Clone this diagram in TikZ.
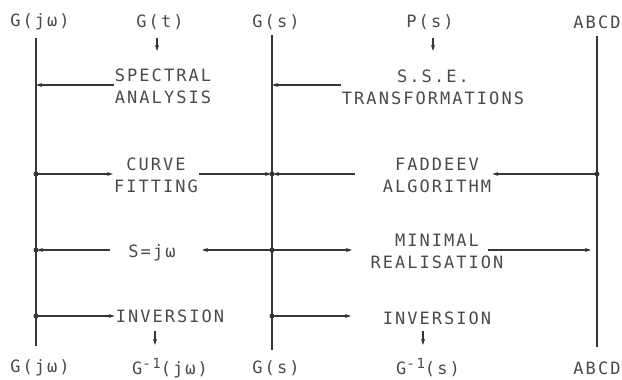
\documentclass[tikz,border=0pt]{standalone}
\usepackage{fontspec}
\newfontfamily\plotfont{DejaVu Sans Mono}[LetterSpace=12]
\usetikzlibrary{arrows.meta,calc}
\definecolor{ink}{HTML}{363636}
\definecolor{txt}{HTML}{4A4A4A}
\newcommand{\supm}{\raisebox{6pt}{\fontsize{14}{14}\selectfont -1}}
\begin{document}
\begin{tikzpicture}[x=1pt,y=-1pt,
  lbl/.style={font=\plotfont\fontsize{17}{22}\selectfont, text=txt, inner sep=1pt, align=center},
  wire/.style={draw=ink, line width=1.2pt},
  arr/.style={wire, -{Stealth[length=6pt,width=4pt]}},
  dot/.style={circle, fill=ink, inner sep=0pt, minimum size=5pt}]
\useasboundingbox (0,0) rectangle (622,380);
% top labels
\node[lbl] (tGjw) at (40,22) {G(jω)};
\node[lbl] (tGt) at (160,22) {G(t)};
\node[lbl] (tGs) at (276,22) {G(s)};
\node[lbl] (tPs) at (430,22) {P(s)};
\node[lbl] (tABCD) at (597,22) {ABCD};
% bottom labels
\node[lbl] (bGjw) at (40,368) {G(jω)};
\node[lbl] (bGinvjw) at (170,368) {G\supm(jω)};
\node[lbl] (bGs) at (276,368) {G(s)};
\node[lbl] (bGinvs) at (428,368) {G\supm(s)};
\node[lbl] (bABCD) at (597,368) {ABCD};
% vertical lines
\coordinate (Ltop) at (36,38);  \coordinate (Lbot) at (36,346);
\coordinate (Mtop) at (272,35); \coordinate (Mbot) at (272,350);
\coordinate (Rtop) at (597,36); \coordinate (Rbot) at (597,347);
\draw[wire] (Ltop) -- (Lbot);
\draw[wire] (Mtop) -- (Mbot);
\draw[wire] (Rtop) -- (Rbot);
% process nodes
\node[lbl] (spec) at (163,86) {SPECTRAL\\ANALYSIS};
\node[lbl] (sse) at (433,87) {S.S.E.\\TRANSFORMATIONS};
\node[lbl] (curve) at (156,175) {CURVE\\FITTING};
\node[lbl] (fad) at (437,175) {FADDEEV\\ALGORITHM};
\node[lbl] (sjw) at (152,253) {S=jω};
\node[lbl] (minr) at (437,251) {MINIMAL\\REALISATION};
\node[lbl] (invL) at (170,316) {INVERSION};
\node[lbl] (invR) at (437,318) {INVERSION};
% points on lines
\coordinate (L1) at (36,85);
\coordinate (M1) at (272,85);
\coordinate (fadIn) at (355,174);
\coordinate (sjwL) at (110,250);
\coordinate (sjwR) at (202,250);
\coordinate (minIn) at (352,250);
\coordinate (minOut) at (488,250);
\coordinate (R3) at (591,250);
\coordinate (invRin) at (351,316);
% horizontal arrows
\draw[arr] (spec.west |- L1) -- (L1);
\draw[arr] (sse.west |- M1) -- (M1);
\draw[arr] (36,174) -- (curve.west |- 0,174);
\draw[arr] (curve.east |- 0,174) -- (271,174);
\draw[arr] (fadIn) -- (273,174);
\draw[arr] (597,174) -- (fad.east |- 0,174);
\draw[arr] (sjwL) -- (37,250);
\draw[arr] (272,250) -- (sjwR);
\draw[arr] (272,250) -- (minIn);
\draw[arr] (minOut) -- (R3);
\draw[arr] (36,316) -- (invL.west);
\draw[arr] (272,316) -- (invRin);
% junction dots
\node[dot] (L2) at (36,174) {};
\node[dot] (M2) at (272,174) {};
\node[dot] (R2) at (597,174) {};
\node[dot] (L3) at (36,250) {};
\node[dot] (M3) at (272,250) {};
\node[dot] (L4) at (36,316) {};
\node[dot] (M4) at (272,316) {};
% small down arrows
\coordinate (a1) at (157,38); \coordinate (a1e) at (157,51);
\coordinate (a2) at (433,38); \coordinate (a2e) at (433,51);
\coordinate (a3) at (155,331); \coordinate (a3e) at (155,345);
\coordinate (a4) at (423,331); \coordinate (a4e) at (423,345);
\draw[arr] (a1) -- (a1e);
\draw[arr] (a2) -- (a2e);
\draw[arr] (a3) -- (a3e);
\draw[arr] (a4) -- (a4e);
\end{tikzpicture}
\end{document}
